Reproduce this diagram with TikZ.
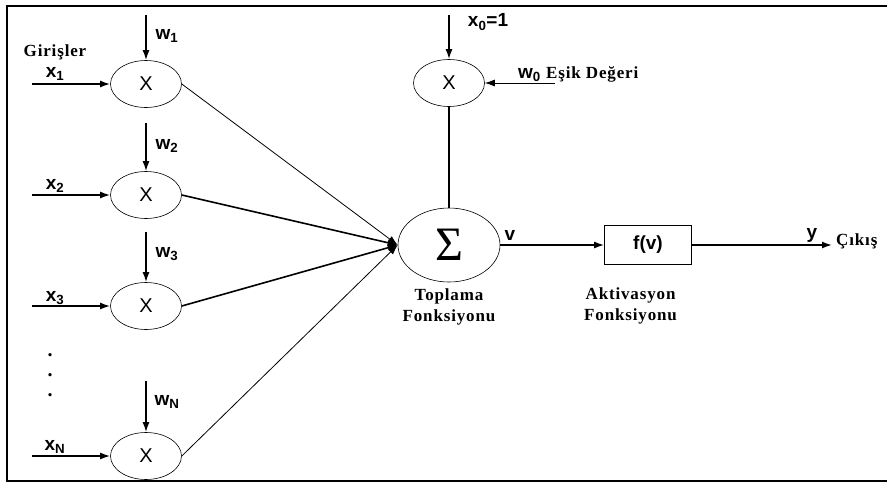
\documentclass[tikz,border=0pt]{standalone}
\usepackage{fontspec}
\setmainfont{Liberation Serif}
\setsansfont{Liberation Sans}
\usetikzlibrary{arrows.meta,positioning,shapes.geometric}

\begin{document}
\begin{tikzpicture}[x=1pt,y=-1pt,>={Latex[length=10pt,width=7pt]},
mult/.style={ellipse,draw,semithick,minimum width=71pt,minimum height=47pt,inner sep=0pt,font=\sffamily\fontsize{20}{20}\selectfont},
summ/.style={ellipse,draw,semithick,minimum width=102pt,minimum height=74pt,inner sep=0pt,font=\fontsize{48}{48}\selectfont},
func/.style={rectangle,draw,semithick,minimum width=87pt,minimum height=39pt,inner sep=0pt,font=\sffamily\bfseries\fontsize{19}{19}\selectfont},
lbl/.style={inner sep=0pt,font=\sffamily\bfseries\fontsize{19}{19}\selectfont},
txt/.style={inner sep=0pt,align=center,font=\bfseries\fontsize{17}{21}\selectfont\addfontfeatures{LetterSpace=5}},
dot/.style={inner sep=0pt,font=\bfseries\fontsize{20}{20}\selectfont},
wire/.style={line width=1.6pt,->},
fine/.style={line width=0.8pt,->}]

\useasboundingbox (0,0) rectangle (887,483);
\draw[line width=2pt] (887,6) -| (7,481) -- (887,481);

% multipliers
\node[mult] (m1) at (146,84) {X};
\node[mult] (m2) at (146,195) {X};
\node[mult] (m3) at (146,306) {X};
\node[mult] (mn) at (146,456) {X};
\node[mult] (m0) at (449,83) {X};
\node[summ] (sum) at (449,245) {Σ};
\node[func] (f) at (648,245) {f(v)};

% free ends
\coordinate (x1) at (32,84);
\coordinate (x2) at (32,195);
\coordinate (x3) at (32,306);
\coordinate (xn) at (32,456);
\coordinate (w1) at (146,15);
\coordinate (w2) at (146,123);
\coordinate (w3) at (146,232);
\coordinate (wn) at (146,381);
\coordinate (x0) at (449,15);
\coordinate (w0) at (555,83);
\coordinate (out) at (832,245);

% labels
\node[txt] (gir) at (55,52) {Girişler};
\node[lbl] (lx1) at (55,74) {x\textsubscript{1}};
\node[lbl] (lx2) at (55,186) {x\textsubscript{2}};
\node[lbl] (lx3) at (55,298) {x\textsubscript{3}};
\node[lbl] (lxn) at (55,447) {x\textsubscript{N}};
\node[lbl] (lw1) at (167,36) {w\textsubscript{1}};
\node[lbl] (lw2) at (167,146) {w\textsubscript{2}};
\node[lbl] (lw3) at (167,254) {w\textsubscript{3}};
\node[lbl] (lwn) at (167,402) {w\textsubscript{N}};
\node[lbl] (lx0) at (488,22) {x\textsubscript{0}=1};
\node[lbl,anchor=base west] (lw0) at (518,78) {w\textsubscript{0}\ \textrm{\fontsize{17}{17}\selectfont\addfontfeatures{LetterSpace=5}Eşik Değeri}};
\node[lbl] (lv) at (510,235) {v};
\node[lbl] (ly) at (812,235) {y};
\node[txt,anchor=west] (cik) at (836,241) {Çıkış};
\node[txt] (top) at (449,307) {Toplama\\Fonksiyonu};
\node[txt,anchor=west] (akt) at (584,306) {Aktivasyon\\Fonksiyonu};

\node[dot] (d1) at (50,355) {.};
\node[dot] (d2) at (50,375) {.};
\node[dot] (d3) at (50,395) {.};

% connections
\draw[wire] (x1)--(m1);
\draw[wire] (x2)--(m2);
\draw[wire] (x3)--(m3);
\draw[wire] (xn)--(mn);
\draw[wire] (w1)--(m1);
\draw[wire] (w2)--(m2);
\draw[wire] (w3)--(m3);
\draw[wire] (wn)--(mn);
\draw[wire] (x0)--(m0);
\draw[fine] (w0)--(m0);
\draw[fine] (m1.east)--(sum.west);
\draw[wire] (m2.east)--(sum.west);
\draw[wire] (m3.east)--(sum.west);
\draw[fine] (mn.east)--(sum.west);
\draw[line width=1.6pt] (m0)--(sum);
\draw[wire] (sum)--(f);
\draw[wire] (f)--(out);
\end{tikzpicture}
\end{document}
